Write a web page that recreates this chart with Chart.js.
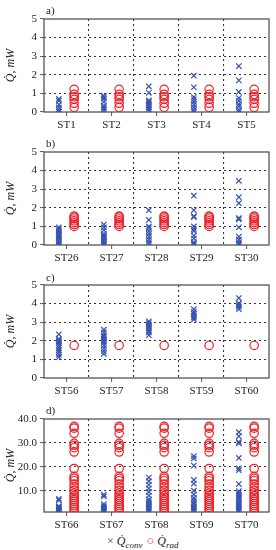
<!DOCTYPE html>
<html>
<head>
<meta charset="utf-8">
<script src="https://cdn.jsdelivr.net/npm/chart.js@4.4.1/dist/chart.umd.min.js"></script>
<style>
    body { margin: 0; background: #fff; }
    #wrap { position: relative; width: 276px; height: 550px; font-family: 'Liberation Serif', serif; color: #222; }
    .panel { position: absolute; left: 0; width: 276px; height: 132px; }
    .lbl { position: absolute; left: 46px; font-size: 11px; line-height: 12px; }
    #legend { position: absolute; top: 534px; left: 107px; font-size: 12px; line-height: 14px; white-space: nowrap; }
    #legend i { font-style: italic; }
    #legend sub { font-size: 9px; font-style: italic; vertical-align: -3px; }
    .mx { color: #3452b4; font-size: 12px; }
    .mo { color: #ee2028; font-size: 13px; margin-left: 4px; }
</style>
</head>
<body>
<div id="wrap">
    <div class="panel" style="top:0px"><canvas id="chartA"></canvas></div>
    <div class="panel" style="top:133px"><canvas id="chartB"></canvas></div>
    <div class="panel" style="top:266px"><canvas id="chartC"></canvas></div>
    <div class="panel" style="top:400px"><canvas id="chartD"></canvas></div>
    <div class="lbl" style="top:4px">a)</div>
    <div class="lbl" style="top:137px">b)</div>
    <div class="lbl" style="top:271px">c)</div>
    <div class="lbl" style="top:404px">d)</div>
    <div id="legend"><span class="mx">×</span> <i>Q̇</i><sub>conv</sub><span class="mo">○</span> <i>Q̇</i><sub>rad</sub></div>
</div>
<script>
// Categories per panel
const catsA = ['ST1', 'ST2', 'ST3', 'ST4', 'ST5'];
const catsB = ['ST26', 'ST27', 'ST28', 'ST29', 'ST30'];
const catsC = ['ST56', 'ST57', 'ST58', 'ST59', 'ST60'];
const catsD = ['ST66', 'ST67', 'ST68', 'ST69', 'ST70'];

// Convective heat (one list per station), mW
const convA = [
    [0.02, 0.12, 0.25, 0.4, 0.6, 0.7],
    [0.02, 0.15, 0.25, 0.35, 0.55, 0.7, 0.8, 0.88],
    [0.03, 0.15, 0.25, 0.35, 0.45, 0.55, 0.62, 1.03, 1.38],
    [0.02, 0.12, 0.25, 0.4, 0.55, 0.68, 0.8, 1.33, 1.95],
    [0.02, 0.12, 0.3, 0.42, 0.6, 0.75, 1.08, 1.7, 2.47]
];
const convB = [
    [0.02, 0.1, 0.2, 0.3, 0.4, 0.48, 0.55, 0.65, 0.75, 0.85, 0.95],
    [0.02, 0.1, 0.2, 0.3, 0.4, 0.45, 0.5, 0.6, 0.8, 0.95, 1.1],
    [0.02, 0.15, 0.3, 0.45, 0.6, 0.75, 0.9, 1.0, 1.35, 1.87],
    [0.02, 0.05, 0.15, 0.35, 0.5, 0.75, 0.85, 1.0, 1.5, 1.55, 1.87, 2.65],
    [0.02, 0.05, 0.15, 0.3, 0.45, 0.95, 1.38, 1.45, 2.25, 2.57, 3.45]
];
const convC = [
    [1.12, 1.25, 1.38, 1.5, 1.62, 1.75, 1.88, 1.95, 2.02, 2.1, 2.35],
    [1.3, 1.45, 1.6, 1.75, 1.9, 2.0, 2.1, 2.2, 2.3, 2.45, 2.6],
    [2.3, 2.45, 2.55, 2.65, 2.75, 2.85, 2.95, 3.05],
    [3.15, 3.25, 3.35, 3.45, 3.55, 3.7],
    [3.7, 3.82, 3.92, 4.02, 4.3]
];
const convD = [
    [1.2, 1.6, 2.0, 2.4, 2.8, 3.2, 3.6, 6.0, 6.6],
    [1.2, 1.6, 2.0, 2.5, 3.0, 3.6, 4.4, 7.6, 8.4],
    [1.2, 1.8, 2.5, 3.2, 4.0, 4.8, 5.6, 6.4, 8.0, 9.5, 11.0, 12.5, 14.0, 15.5],
    [1.3, 2.0, 2.8, 3.5, 4.3, 5.0, 6.0, 7.0, 8.5, 10.0, 13.0, 14.5, 20.5, 23.5, 24.5],
    [1.2, 1.8, 2.5, 3.3, 4.0, 4.8, 5.6, 6.5, 7.3, 8.2, 9.0, 9.8, 12.8, 18.6, 19.4, 23.7, 29.8, 30.4, 32.8, 34.5]
];

// Radiative heat (same for every station of a panel), mW
const radA = [0.25, 0.47, 0.68, 0.82, 0.95, 1.22];
const radB = [1.0, 1.1, 1.2, 1.3, 1.4, 1.5, 1.55];
const radC = [1.75];
const radD = [1.3, 2.2, 3.0, 3.8, 4.6, 5.5, 6.3, 7.2, 8.0, 9.0, 10.2, 11.5, 12.8, 14.2, 15.2, 16.0, 19.3, 26.2, 28.0, 29.0, 29.8, 34.0, 36.2, 36.9];

// Y ticks
const yTicksABC = [0, 1, 2, 3, 4, 5];
const yTicksD = [10, 20, 30, 40];

const blue = '#3452b4';
const red = '#ee2028';
const gridColor = '#333';
const serif = 'Liberation Serif';
const font = { family: serif, size: 11 };

// Frame round the plot area
const framePlugin = {
    id: 'frame',
    beforeDatasetsDraw(chart) {
        const a = chart.chartArea;
        const ctx = chart.ctx;
        ctx.save();
        ctx.strokeStyle = '#555';
        ctx.lineWidth = 1.3;
        ctx.strokeRect(a.left, a.top, a.right - a.left, a.bottom - a.top);
        ctx.restore();
    }
};

function makePanel(id, cats, conv, rad, yMin, yMax, yTicks, decimals) {
    const convPts = [];
    const radPts = [];
    cats.forEach((c, i) => {
        conv[i].forEach(v => convPts.push({ x: i + 1 - 0.17, y: v }));
        rad.forEach(v => radPts.push({ x: i + 1 + 0.17, y: v }));
    });

    new Chart(document.getElementById(id), {
        type: 'scatter',
        data: {
            datasets: [
                {
                    label: 'conv',
                    data: convPts,
                    pointStyle: 'crossRot',
                    pointRadius: 3.8,
                    borderColor: blue,
                    borderWidth: 1.2
                },
                {
                    label: 'rad',
                    data: radPts,
                    pointStyle: 'circle',
                    pointRadius: 4.2,
                    borderColor: red,
                    backgroundColor: 'rgba(0,0,0,0)',
                    borderWidth: 1.2
                }
            ]
        },
        options: {
            responsive: true,
            maintainAspectRatio: false,
            animation: false,
            layout: { padding: { top: 19, right: 7, left: 0, bottom: 0 } },
            plugins: {
                legend: { display: false },
                tooltip: { enabled: false }
            },
            scales: {
                x: {
                    type: 'linear',
                    min: 0.5,
                    max: 5.5,
                    afterBuildTicks: scale => {
                        scale.ticks = [1, 1.5, 2, 2.5, 3, 3.5, 4, 4.5, 5].map(v => ({ value: v }));
                    },
                    afterFit: scale => { scale.height = 20; },
                    ticks: {
                        autoSkip: false,
                        maxRotation: 0,
                        padding: 3,
                        color: '#222',
                        font: font,
                        callback: v => Number.isInteger(v) ? cats[v - 1] : ''
                    },
                    grid: {
                        color: c => (c.tick && !Number.isInteger(c.tick.value)) ? gridColor : 'rgba(0,0,0,0)',
                        tickColor: c => (c.tick && Number.isInteger(c.tick.value)) ? '#666' : 'rgba(0,0,0,0)',
                        tickLength: 4,
                        lineWidth: 1.1
                    },
                    border: { display: false, dash: [2, 3] }
                },
                y: {
                    min: yMin,
                    max: yMax,
                    afterBuildTicks: scale => {
                        scale.ticks = yTicks.map(v => ({ value: v }));
                    },
                    afterFit: scale => { scale.width = 44; },
                    title: {
                        display: true,
                        text: 'Q̇, mW',
                        color: '#222',
                        font: { family: serif, size: 12, style: 'italic' },
                        padding: { top: 4, bottom: 0 }
                    },
                    ticks: {
                        padding: 3,
                        color: '#222',
                        font: font,
                        callback: v => v.toFixed(decimals)
                    },
                    grid: {
                        color: c => (c.tick && c.tick.value > yMin && c.tick.value < yMax) ? gridColor : 'rgba(0,0,0,0)',
                        tickColor: '#666',
                        tickLength: 4,
                        lineWidth: 1.1
                    },
                    border: { display: false, dash: [2, 3] }
                }
            }
        },
        plugins: [framePlugin]
    });
}

makePanel('chartA', catsA, convA, radA, 0, 5, yTicksABC, 0);
makePanel('chartB', catsB, convB, radB, 0, 5, yTicksABC, 0);
makePanel('chartC', catsC, convC, radC, 0, 5, yTicksABC, 0);
makePanel('chartD', catsD, convD, radD, 1.1, 40, yTicksD, 1);
</script>
</body>
</html>
